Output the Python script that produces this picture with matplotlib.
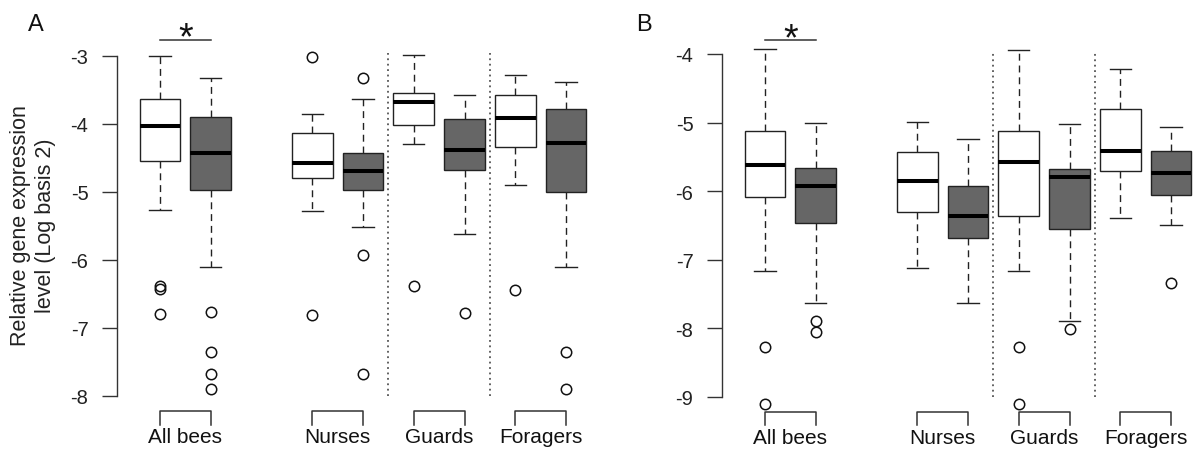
import matplotlib
matplotlib.use("Agg")
import matplotlib.pyplot as plt

plt.rcParams['font.family'] = ['Liberation Sans', 'DejaVu Sans']

# ---------------- data ----------------
positions = [1, 2, 4, 5, 6, 7, 8, 9]
group_labels = ["All bees", "Nurses", "Guards", "Foragers"]
group_centers = [1.5, 4.5, 6.5, 8.5]
group_pairs = [(1, 2), (4, 5), (6, 7), (8, 9)]
separators = [5.5, 7.5]

# Panel A
A_q1 = [-4.54, -4.97, -4.80, -4.97, -4.02, -4.68, -4.34, -5.00]
A_med = [-4.03, -4.43, -4.58, -4.69, -3.68, -4.38, -3.91, -4.28]
A_q3 = [-3.63, -3.89, -4.13, -4.43, -3.55, -3.93, -3.58, -3.78]
A_lo = [-5.27, -6.10, -5.28, -5.52, -4.29, -5.62, -4.90, -6.10]
A_hi = [-3.00, -3.33, -3.86, -3.63, -2.98, -3.58, -3.28, -3.38]
A_fliers = [[-6.38, -6.43, -6.79], [-6.77, -7.35, -7.68, -7.89], [-3.02, -6.81],
            [-3.33, -5.92, -7.68], [-6.38], [-6.78], [-6.44], [-7.35, -7.90]]
A_ticks = [-3, -4, -5, -6, -7, -8]

# Panel B
B_q1 = [-6.08, -6.47, -6.31, -6.68, -6.36, -6.56, -5.70, -6.06]
B_med = [-5.62, -5.93, -5.85, -6.36, -5.58, -5.80, -5.41, -5.74]
B_q3 = [-5.13, -5.66, -5.43, -5.93, -5.13, -5.68, -4.80, -5.42]
B_lo = [-7.16, -7.64, -7.12, -7.64, -7.16, -7.89, -6.39, -6.49]
B_hi = [-3.93, -5.01, -4.99, -5.24, -3.94, -5.02, -4.22, -5.06]
B_fliers = [[-8.28, -9.11], [-7.89, -8.05], [], [], [-8.28, -9.11], [-8.01], [], [-7.34]]
B_ticks = [-4, -5, -6, -7, -8, -9]

box_colors = ["white", "#666666"] * 4

W, H = 1198, 452
fig = plt.figure(figsize=(W / 100, H / 100), dpi=100)


def make_axes(x_ref, y_ref, xlim, ylim):
    (xd0, xp0), (xd1, xp1) = x_ref
    sx = (xp1 - xp0) / (xd1 - xd0)
    left = xp0 + (xlim[0] - xd0) * sx
    right = xp0 + (xlim[1] - xd0) * sx
    (yd0, yp0), (yd1, yp1) = y_ref
    sy = (yp1 - yp0) / (yd1 - yd0)
    top = yp0 + (ylim[1] - yd0) * sy
    bot = yp0 + (ylim[0] - yd0) * sy
    ax = fig.add_axes([left / W, 1 - bot / H, (right - left) / W, (bot - top) / H])
    ax.set_xlim(*xlim)
    ax.set_ylim(*ylim)
    return ax


def draw_panel(ax, q1, med, q3, lo, hi, fliers, ticks, sig_y, star_y, label_y):
    stats = []
    for i in range(len(positions)):
        stats.append(dict(q1=q1[i], med=med[i], q3=q3[i], whislo=lo[i],
                          whishi=hi[i], fliers=fliers[i]))
    bp = ax.bxp(stats, positions=positions, widths=0.8, patch_artist=True,
                capwidths=0.42, manage_ticks=False,
                boxprops=dict(linewidth=1.0, edgecolor="#222222"),
                medianprops=dict(linewidth=2.9, color="black", solid_capstyle="butt"),
                whiskerprops=dict(linewidth=1.0, color="#222222", linestyle=(0, (5, 3.5))),
                capprops=dict(linewidth=1.0, color="#222222"),
                flierprops=dict(marker="o", markersize=7.5, markerfacecolor="none",
                                markeredgecolor="#111111", markeredgewidth=1.1))
    for patch, c in zip(bp['boxes'], box_colors):
        patch.set_facecolor(c)

    for s in separators:
        ax.plot([s, s], [ticks[-1], ticks[0] + 0.05], color="#555555",
                linestyle=(0, (1, 2)), linewidth=1.3)

    for sp in ["top", "right", "bottom"]:
        ax.spines[sp].set_visible(False)
    ax.spines["left"].set_bounds(ticks[-1], ticks[0])
    ax.spines["left"].set_color("#333333")
    ax.spines["left"].set_linewidth(1.0)
    ax.set_xticks([])
    ax.set_yticks(ticks)
    ax.set_yticklabels([str(t) for t in ticks])
    ax.tick_params(axis="y", length=11, width=1.0, color="#333333", pad=9.5,
                   labelsize=14.5, labelcolor="#222222")

    # group brackets and labels
    btop = ticks[-1] - 0.22
    bbot = ticks[-1] - 0.42
    for (a, b), c, lab in zip(group_pairs, group_centers, group_labels):
        ax.plot([a, a, b, b], [bbot, btop, btop, bbot], color="#333333",
                linewidth=1.1, clip_on=False)
        ax.text(c, label_y, lab, ha="center", va="center", fontsize=15,
                color="#111111", clip_on=False)

    # significance
    ax.plot([1, 2], [sig_y, sig_y], color="#333333", linewidth=1.1, clip_on=False)
    ax.text(1.5, star_y, "*", ha="center", va="baseline", fontsize=27,
            color="#111111", clip_on=False)


axA = make_axes(((1, 160), (9, 566)), ((-3, 57), (-8, 397)), (0.15, 9.5), (-8.6, -2.3))
draw_panel(axA, A_q1, A_med, A_q3, A_lo, A_hi, A_fliers, A_ticks,
           sig_y=-2.76, star_y=-2.88, label_y=-8.60)

axB = make_axes(((1, 765), (9, 1171)), ((-4, 55), (-9, 397.7)), (0.15, 9.5), (-9.6, -3.3))
draw_panel(axB, B_q1, B_med, B_q3, B_lo, B_hi, B_fliers, B_ticks,
           sig_y=-3.80, star_y=-3.93, label_y=-9.59)

fig.text(36 / W, 1 - 25 / H, "A", ha="center", va="center", fontsize=17, color="#111111")
fig.text(644 / W, 1 - 25 / H, "B", ha="center", va="center", fontsize=17, color="#111111")
fig.text(33 / W, 1 - 226 / H, "Relative gene expression\nlevel (Log basis 2)",
         rotation=90, ha="center", va="center", fontsize=15.5, color="#222222",
         linespacing=1.25, multialignment="center")

fig.savefig("out.png", dpi=100, facecolor="white")
